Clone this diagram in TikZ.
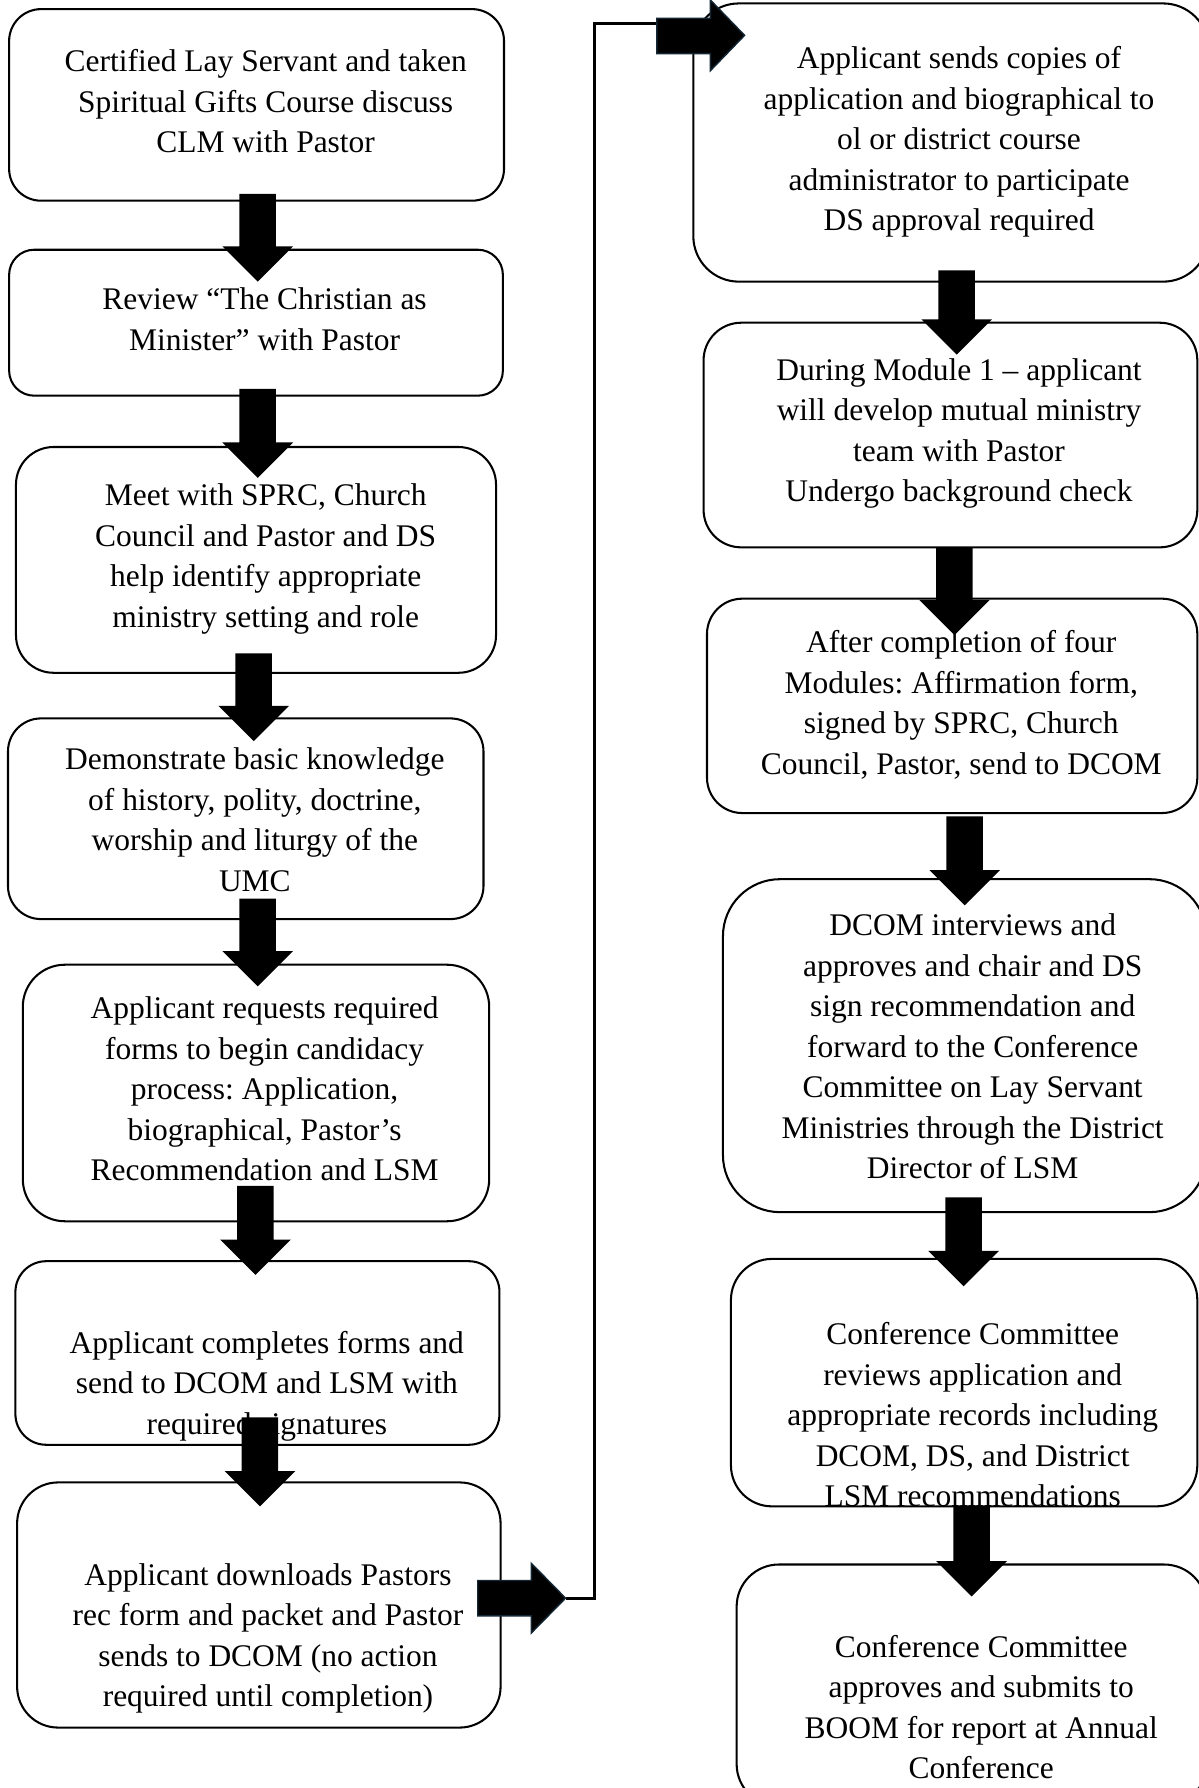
\documentclass[tikz,border=0pt]{standalone}
\usepackage{fontspec}
\setmainfont{Liberation Serif}
\frenchspacing
\usetikzlibrary{calc}
\definecolor{arrowedge}{RGB}{18,38,52}
\tikzset{
  boxst/.style={draw=black, line width=0.9pt, fill=white, inner sep=0pt},
  txt/.style={inner sep=0pt, align=center, font=\fontsize{13.8}{17.75}\selectfont\frenchspacing,
    execute at begin node=\strut, execute at end node=\strut, yshift=-3pt},
  blk/.style={fill=black},
  blkh/.style={fill=black, draw=arrowedge, line width=0.6pt},
  conn/.style={draw=black, line width=1.3pt}
}
% box: name, x1, y1, x2, y2, corner radius (pt)
\newcommand\flowbox[6]{%
  \node[boxst, minimum width={(#4-#2)*0.5pt}, minimum height={(#5-#3)*0.5pt},
    rounded corners=#6pt] (#1) at ({(#2+#4)/2},{(#3+#5)/2}) {};}
% block arrow pointing down: centre x, top y, tip y
\newcommand\blockdown[3]{%
  \fill[blk] (#1-16,#2) -- (#1+16,#2) -- (#1+16,#3-31) -- (#1+31,#3-31) -- (#1,#3)
    -- (#1-31,#3-31) -- (#1-16,#3-31) -- cycle;}
\begin{document}
\begin{tikzpicture}[x=0.5pt, y=-0.5pt]
\useasboundingbox[fill=white] (0,0) rectangle (1051,1568);

% left column boxes
\flowbox{b1}{8}{8}{442}{176}{14}
\flowbox{b2}{8}{219}{441}{347}{11}
\flowbox{b3}{14}{392}{435}{590}{16.5}
\flowbox{b4}{7}{630}{424}{806}{14.5}
\flowbox{b5}{20}{846}{429}{1071}{18.5}
\flowbox{b6}{13.5}{1106}{438}{1267}{13.5}
\flowbox{b7}{15}{1300}{439}{1515}{18}
% right column boxes
\flowbox{r1}{608}{3}{1060}{247}{20}
\flowbox{r2}{617}{283}{1050}{480}{16.5}
\flowbox{r3}{620}{525}{1050}{713}{15.5}
\flowbox{r4}{634}{771}{1058}{1063}{25}
\flowbox{r5}{641}{1104}{1050}{1321}{18}
\flowbox{r6}{646}{1372}{1058}{1584}{18.5}

% texts
\node[txt] (b1t) at (233,88) {Certified Lay Servant and taken\\Spiritual Gifts Course discuss\\CLM with Pastor};
\node[txt] (b2t) at (232,279) {Review “The Christian as\\Minister” with Pastor};
\node[txt] (b3t) at (233,486.5) {Meet with SPRC, Church\\Council and Pastor and DS\\help identify appropriate\\ministry setting and role};
\node[txt] (b4t) at (223.5,718) {Demonstrate basic knowledge\\of history, polity, doctrine,\\worship and liturgy of the\\UMC};
\node[txt] (b5t) at (232,954) {Applicant requests required\\forms to begin candidacy\\process: Application,\\biographical, Pastor’s\\Recommendation and LSM};
\node[txt] (b6t) at (234,1212) {Applicant completes forms and\\send to DCOM and LSM with\\required signatures};
\node[txt] (b7t) at (235,1433) {Applicant downloads Pastors\\rec form and packet and Pastor\\sends to DCOM (no action\\required until completion)};
\node[txt] (r1t) at (841,121) {Applicant sends copies of\\application and biographical to\\ol or district course\\administrator to participate\\DS approval required};
\node[txt] (r2t) at (841,376.5) {During Module 1 – applicant\\will develop mutual ministry\\team with Pastor\\Undergo background check};
\node[txt] (r3t) at (843,615.5) {After completion of four\\Modules: Affirmation form,\\signed by SPRC, Church\\Council, Pastor, send to DCOM};
\node[txt] (r4t) at (853,917) {DCOM interviews and\\approves and chair and DS\\sign recommendation and\\forward to the Conference\\Committee on Lay Servant\\Ministries through the District\\Director of LSM};
\node[txt] (r5t) at (853,1240) {Conference Committee\\reviews application and\\appropriate records including\\DCOM, DS, and District\\LSM recommendations};
\node[txt] (r6t) at (860.5,1496) {Conference Committee\\approves and submits to\\BOOM for report at Annual\\Conference};

% elbow connector between the two horizontal block arrows
\coordinate (etip) at (496,1401.5);
\coordinate (etail) at (577,21);
\draw[conn] (etip) -- (521,1401.5) |- (etail);

% down block arrows, left column
\blockdown{226}{170}{247}
\blockdown{226}{341}{419}
\blockdown{222.5}{573}{650}
\blockdown{226}{788}{865}
\blockdown{224}{1040}{1118}
\blockdown{228}{1243}{1321}
% down block arrows, right column
\blockdown{839}{237}{311}
\blockdown{837}{480}{557}
\blockdown{846}{716}{794}
\blockdown{845}{1050}{1128}
\blockdown{852}{1321}{1400}

% horizontal block arrows
\path[blkh] (419,1386) -- (466,1386) -- (466,1371) -- (etip) -- (466,1432)
  -- (466,1417) -- (419,1417) -- cycle;
\path[blkh] (576,16) -- (623,16) -- (623,0) -- (653,31) -- (623,62)
  -- (623,47) -- (576,47) -- cycle;
\end{tikzpicture}
\end{document}
